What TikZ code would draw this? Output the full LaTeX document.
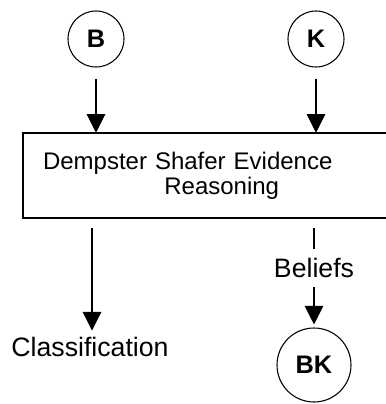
\documentclass[tikz,border=0pt]{standalone}
\usepackage{fontspec}
\setmainfont{Liberation Sans}
\usepackage{tikz}
\usetikzlibrary{arrows.meta, positioning, calc}

\begin{document}
\begin{tikzpicture}[
    x=0.75pt, y=-0.75pt,
    font=\fontsize{20}{22}\selectfont,
    source/.style = {circle, draw, line width=0.8pt, minimum size=42pt, inner sep=0pt, font=\fontsize{19}{21}\selectfont\bfseries},
    box/.style = {rectangle, minimum width=300pt, minimum height=63.75pt, text width=270pt, inner xsep=15pt, align=left, font=\fontsize{18}{19}\selectfont},
    arrow/.style = {line width=0.8pt, -{Triangle[length=14pt, width=14pt]}}
]
\clip (0,0) rectangle (386,404);

% Nodes
\node (b) [source] at (96,39) {B};
\node (k) [source] at (316,39) {K};
\node (dse) [box] at (223,175.5) {Dempster Shafer Evidence \\ \hspace*{91pt}Reasoning};
\node (cls) at (90,347) {Classification};
\node (bk) [source, minimum size=55.5pt] at (314,365) {BK};

% Box, running off the right edge
\draw [line width=1.5pt] (dse.north east) -- (dse.north west) -- (dse.south west) -- (dse.south east);

% Arrows
\draw [arrow] ($(b.south)+(0,11)$) -- (b.south |- dse.north);
\draw [arrow] ($(k.south)+(0,11)$) -- (k.south |- dse.north);
\draw [arrow] ($(dse.south -| 92,0)+(0,10)$) -- ($(cls.north -| 92,0)+(0,-2)$);
\draw [arrow] ($(dse.south -| bk.north)+(0,10)$) -- node[pos=0.41, fill=white, inner xsep=2pt, inner ysep=7pt]{Beliefs} ($(bk.north)+(0,-3)$);

\end{tikzpicture}
\end{document}
